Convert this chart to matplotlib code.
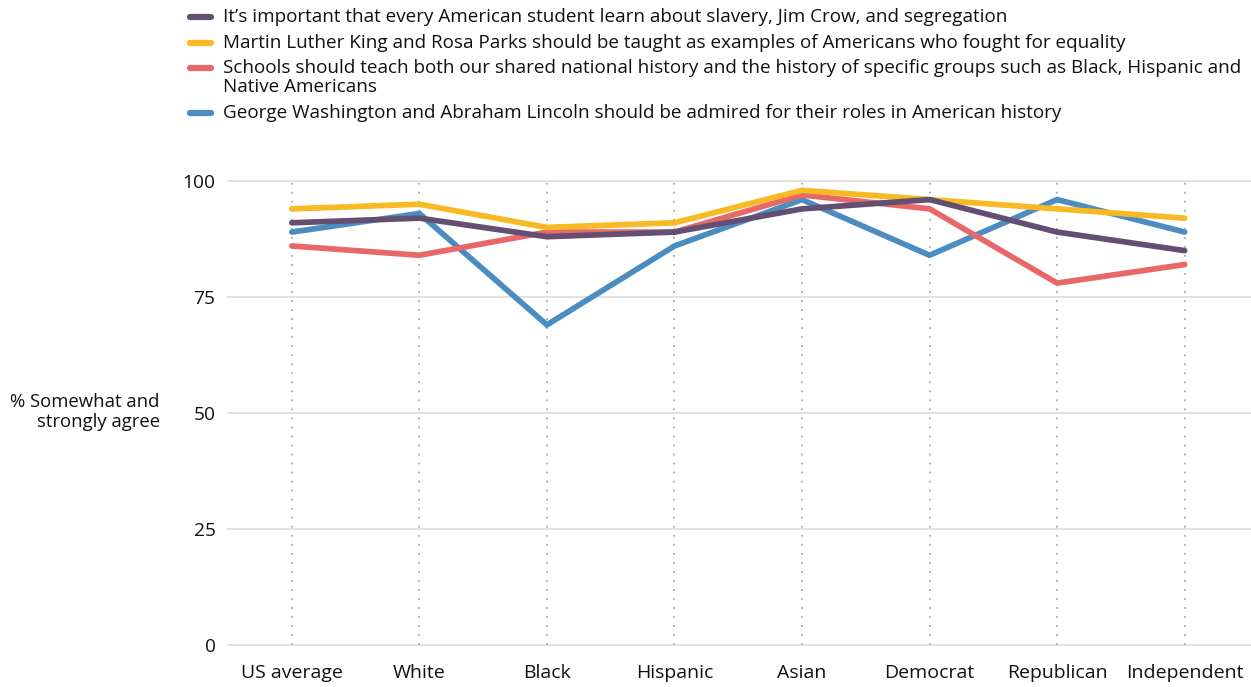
import matplotlib
matplotlib.use("Agg")
import matplotlib.pyplot as plt
from matplotlib.lines import Line2D

plt.rcParams['font.family'] = ['Open Sans', 'DejaVu Sans']

groups = ["US average", "White", "Black", "Hispanic", "Asian", "Democrat", "Republican", "Independent"]

slavery = [91, 92, 88, 89, 94, 96, 89, 85]
mlk_parks = [94, 95, 90, 91, 98, 96, 94, 92]
shared_history = [86, 84, 89, 89, 97, 94, 78, 82]
washington_lincoln = [89, 93, 69, 86, 96, 84, 96, 89]

labels = [
    "It\u2019s important that every American student learn about slavery, Jim Crow, and segregation",
    "Martin Luther King and Rosa Parks should be taught as examples of Americans who fought for equality",
    "Schools should teach both our shared national history and the history of specific groups such as Black, Hispanic and\nNative Americans",
    "George Washington and Abraham Lincoln should be admired for their roles in American history",
]
colors = ["#644f72", "#f8b922", "#e8686a", "#4b8dc1"]
series = [slavery, mlk_parks, shared_history, washington_lincoln]

fig = plt.figure(figsize=(12.51, 6.87), dpi=100)
ax = fig.add_axes([0.1823, 0.0611, 0.8177, 0.6754])

x = list(range(len(groups)))
ax.set_xlim(-0.5, 7.52)
ax.set_ylim(0, 100)

for v in [0, 25, 50, 75, 100]:
    ax.axhline(v, color="#dddddd", lw=1.2, zorder=0, clip_on=False)
for xi in x:
    ax.plot([xi, xi], [0, 100], color="#aaaaaa", lw=1.3, ls=(0, (1, 4)), zorder=1, clip_on=False)

# draw so the purple line sits on top, blue underneath
order = [3, 2, 1, 0]
for i in order:
    ax.plot(x, series[i], color=colors[i], lw=4.1, solid_capstyle="round",
            solid_joinstyle="miter", zorder=3 + (3 - i), clip_on=False)

ax.set_xticks(x)
ax.set_xticklabels(groups, fontsize=14, color="#111111")
ax.set_yticks([0, 25, 50, 75, 100])
ax.set_yticklabels(["0", "25", "50", "75", "100"], fontsize=13.8, color="#111111")
ax.tick_params(axis="x", length=0, pad=14)
ax.tick_params(axis="y", length=0, pad=9)
for s in ax.spines.values():
    s.set_visible(False)

fig.text(160 / 1251, 1 - 412 / 687, "% Somewhat and\nstrongly agree", ha="right", va="center",
         fontsize=13.3, color="#111111", linespacing=1.1)

# legend rows along the top
rows_y = [17, 43, 68, 113]
for lab, col, y in zip(labels, colors, rows_y):
    fy = 1 - y / 687
    fig.add_artist(Line2D([190 / 1251, 211 / 1251], [fy, fy], color=col, lw=4.5,
                          solid_capstyle="round", transform=fig.transFigure))
    if "\n" in lab:
        fy = 1 - (y + 9.5) / 687
    fig.text(223 / 1251, fy, lab, ha="left", va="center",
             fontsize=13.6, color="#111111", linespacing=1.06)

fig.savefig("out.png", dpi=100)
